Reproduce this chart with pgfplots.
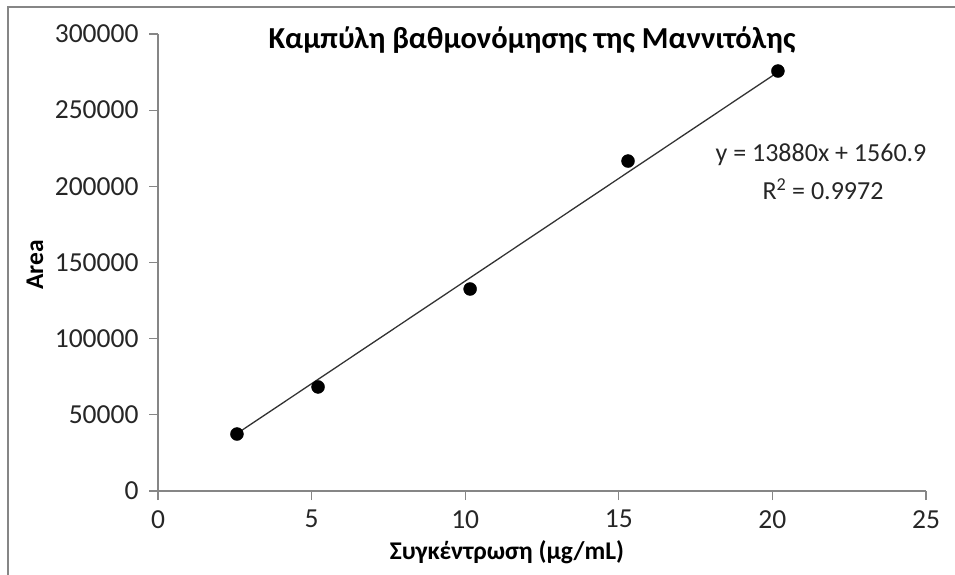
\documentclass[border=0pt]{standalone}
\usepackage{pgfplots}
\pgfplotsset{compat=1.18}
\usepackage{fontspec}
\setmainfont{Carlito}
\definecolor{axgray}{HTML}{868686}
\begin{document}
\begin{tikzpicture}[x=1pt,y=1pt]
\useasboundingbox (0,0) rectangle (955,-575);
\draw[draw=axgray, line width=1.2pt] (8,-575) -- (8,-7) -- (955,-7);
\begin{axis}[
  at={(158pt,-491pt)}, anchor=south west,
  scale only axis, width=768pt, height=457pt,
  xmin=0, xmax=25, ymin=0, ymax=300000,
  axis x line*=bottom, axis y line*=left,
  xtick={0,5,10,15,20,25},
  ytick={0,50000,100000,150000,200000,250000,300000},
  scaled y ticks=false,
  yticklabel style={/pgf/number format/fixed, /pgf/number format/1000 sep={}},
  /pgf/number format/assume math mode=true,
  tick label style={font=\fontsize{27.5}{27.5}\selectfont, text=black!85},
  tick align=outside, major tick length=9pt,
  axis line style={axgray, line width=1.3pt},
  tick style={axgray, line width=1.3pt},
  xticklabel style={yshift=-9pt, inner sep=1pt},
  yticklabel style={xshift=-7pt},
  clip=false,
]
\addplot[black!80, line width=1.3pt, forget plot] coordinates {(2.57,37700) (20.18,275000)};
\addplot[only marks, mark=*, mark size=6.5pt, black] coordinates {
  (2.57,37400) (5.21,68300) (10.16,132600) (15.3,216600) (20.18,275700)};
\end{axis}
\node[font=\fontsize{30.5}{30.5}\selectfont\bfseries] at (532,-40) {Καμπύλη βαθμονόμησης της Μαννιτόλης};
\node[font=\fontsize{25.5}{25.5}\selectfont\bfseries, inner sep=0pt] at (507,-552) {Συγκέντρωση (μg/mL)};
\node[font=\fontsize{25.5}{25.5}\selectfont\bfseries, rotate=90] at (35,-265) {Area};
\node[font=\fontsize{26}{26}\selectfont, text=black!85, inner sep=0pt] at (821,-155) {y = 13880x + 1560.9};
\node[font=\fontsize{26}{26}\selectfont, text=black!85, inner sep=0pt] at (823,-189) {R\textsuperscript{2} = 0.9972};
\end{tikzpicture}
\end{document}
